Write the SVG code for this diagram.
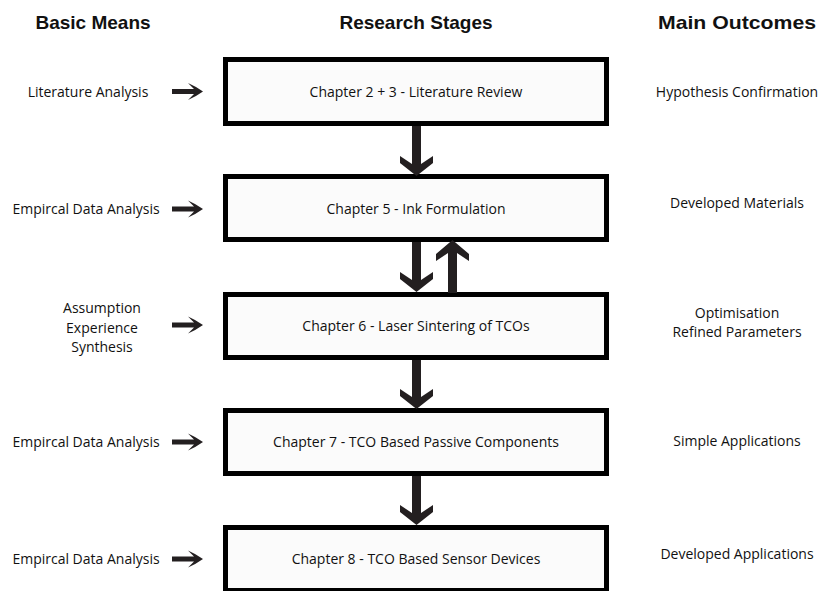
<svg xmlns="http://www.w3.org/2000/svg" width="823" height="591" viewBox="0 0 823 591">
  <style>
    .head { font-family: "Liberation Sans", Arial, sans-serif; font-weight: bold; font-size: 19px; fill: #111; text-anchor: middle; }
    .lbl { font-family: "Open Sans", "Noto Sans", sans-serif; font-size: 14px; fill: #111; text-anchor: middle; }
    .box { fill: #fbfbfb; stroke: #000; stroke-width: 5; }
    .arr { fill: #231f20; }
  </style>
  <defs>
    <!-- small horizontal input arrow, drawn with its tip at the origin -->
    <path id="side" d="M-31,-2.6 H-9 L-15,-8.5 Q-7,-5 0,0 Q-7,5 -15,8.5 L-9,2.6 H-31 Z"/>
  </defs>

  <rect width="823" height="591" fill="#fff"/>

  <!-- column headings -->
  <text class="head" x="93" y="29">Basic Means</text>
  <text class="head" x="416" y="29">Research Stages</text>
  <text class="head" x="737" y="29" textLength="158" lengthAdjust="spacingAndGlyphs">Main Outcomes</text>

  <!-- stage boxes -->
  <g id="stage1">
    <rect class="box" x="225.5" y="59.5" width="381" height="64"/>
    <text class="lbl" x="416" y="97">Chapter 2 + 3 - Literature Review</text>
  </g>
  <g id="stage2">
    <rect class="box" x="225.5" y="176.5" width="381" height="63"/>
    <text class="lbl" x="416" y="214">Chapter 5 - Ink Formulation</text>
  </g>
  <g id="stage3">
    <rect class="box" x="225.5" y="294.5" width="381" height="63"/>
    <text class="lbl" x="416" y="331">Chapter 6 - Laser Sintering of TCOs</text>
  </g>
  <g id="stage4">
    <rect class="box" x="225.5" y="410.5" width="381" height="63"/>
    <text class="lbl" x="416" y="447">Chapter 7 - TCO Based Passive Components</text>
  </g>
  <g id="stage5">
    <rect class="box" x="225.5" y="527.5" width="381" height="63"/>
    <text class="lbl" x="416" y="564">Chapter 8 - TCO Based Sensor Devices</text>
  </g>

  <!-- means column -->
  <g id="means1"><text class="lbl" x="88" y="97">Literature Analysis</text></g>
  <g id="means2"><text class="lbl" x="86" y="214">Empircal Data Analysis</text></g>
  <g id="means3">
    <text class="lbl" x="102" y="313">Assumption</text>
    <text class="lbl" x="102" y="333">Experience</text>
    <text class="lbl" x="102" y="352">Synthesis</text>
  </g>
  <g id="means4"><text class="lbl" x="86" y="447">Empircal Data Analysis</text></g>
  <g id="means5"><text class="lbl" x="86" y="564">Empircal Data Analysis</text></g>

  <!-- outcomes column -->
  <g id="out1"><text class="lbl" x="737" y="97">Hypothesis Confirmation</text></g>
  <g id="out2"><text class="lbl" x="737" y="208">Developed Materials</text></g>
  <g id="out3">
    <text class="lbl" x="737" y="318">Optimisation</text>
    <text class="lbl" x="737" y="337">Refined Parameters</text>
  </g>
  <g id="out4"><text class="lbl" x="737" y="446">Simple Applications</text></g>
  <g id="out5"><text class="lbl" x="737" y="559">Developed Applications</text></g>

  <!-- connectors -->
  <g id="connectors" class="arr">
    <use href="#side" x="203" y="91.5"/>
    <use href="#side" x="203" y="209"/>
    <use href="#side" x="203" y="325"/>
    <use href="#side" x="203" y="442"/>
    <use href="#side" x="203" y="559"/>

    <!-- stage-to-stage arrows -->
    <polygon points="412,126 421,126 421,164 433,156 433,163 416.5,176 400,163 400,156 412,164"/>
    <polygon points="412,242 421,242 421,280 433,272 433,279 416.5,292 400,279 400,272 412,280"/>
    <polygon points="448,293 457,293 457,253 469,261 469,254 452.5,240 436,254 436,261 448,253"/>
    <polygon points="412,360 421,360 421,397 433,389 433,396 416.5,409 400,396 400,389 412,397"/>
    <polygon points="412,476 421,476 421,513 433,505 433,512 416.5,525 400,512 400,505 412,513"/>
  </g>
</svg>
